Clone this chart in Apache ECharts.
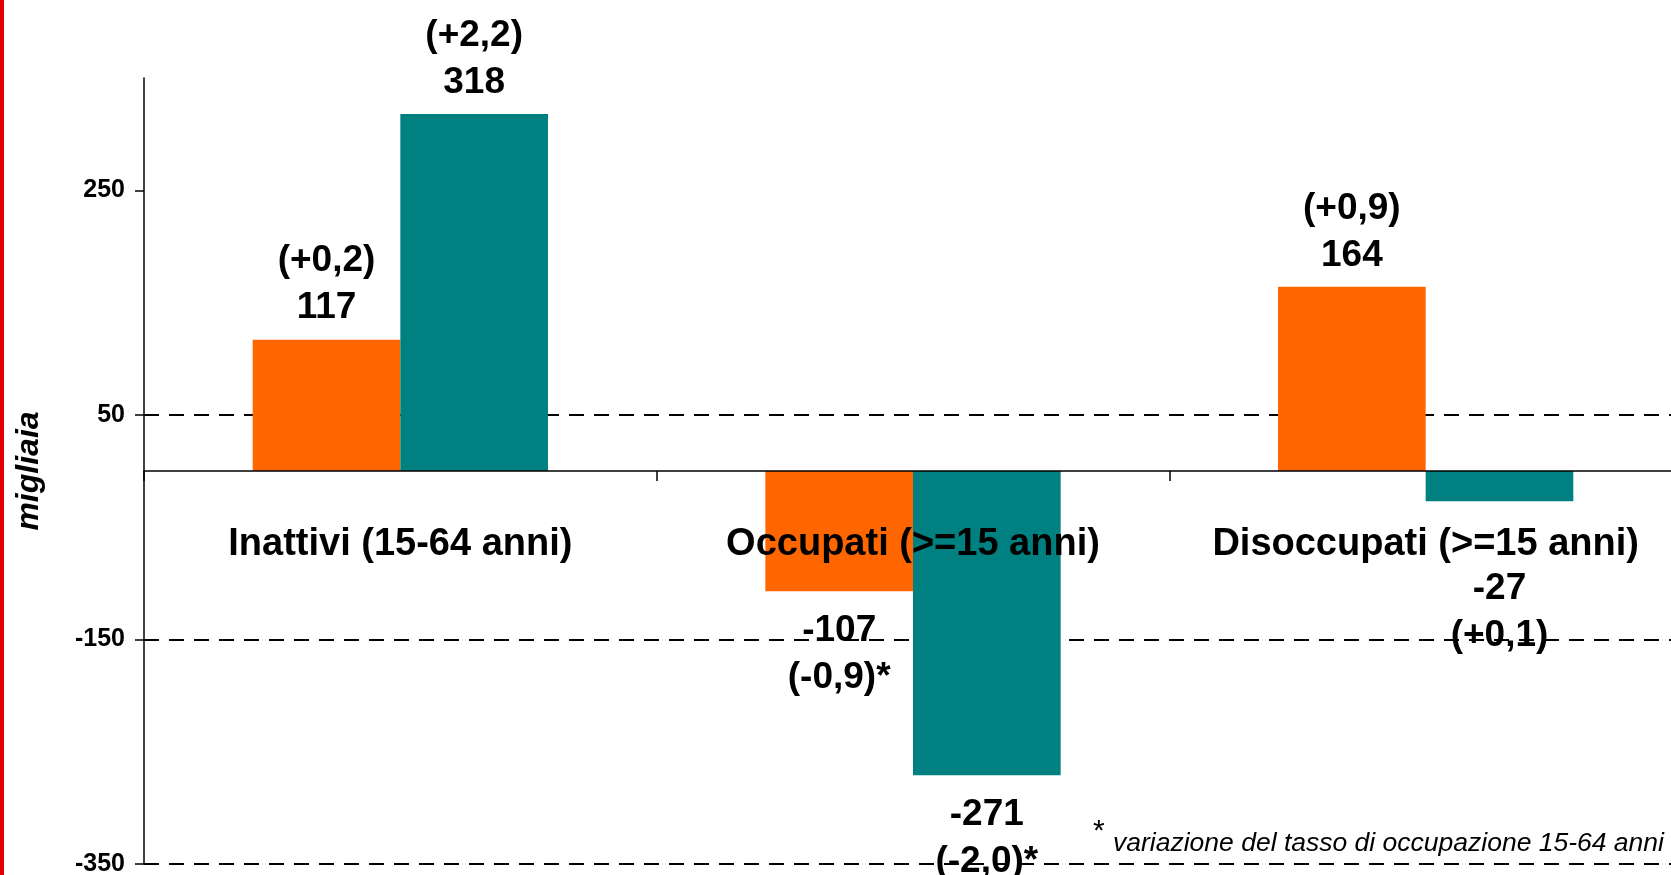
<!DOCTYPE html>
<html>
<head>
<meta charset="utf-8">
<script src="https://cdn.jsdelivr.net/npm/echarts@6/dist/echarts.min.js"></script>
<style>
html,body{margin:0;padding:0;background:#fff;}
#chart{width:1671px;height:875px;}
</style>
</head>
<body>
<div id="chart"></div>
<script>
// ---- data ----
var categories = ['Inattivi (15-64 anni)', 'Occupati (>=15 anni)', 'Disoccupati (>=15 anni)'];
var seriesA = [117, -107, 164];      // orange
var seriesB = [318, -271, -27];      // teal
var ratesA = ['(+0,2)', '(-0,9)*', '(+0,9)'];
var ratesB = ['(+2,2)', '(-2,0)*', '(+0,1)'];
var yTicks = [-350, -150, 50, 250];
var yAxisName = 'migliaia';
var footnote = 'variazione del tasso di occupazione 15-64 anni';

var FONT = '"Liberation Sans", Arial, sans-serif';

function labelFor(v, rate) {
  return v >= 0 ? rate + '\n' + v : v + '\n' + rate;
}

function buildData(values, rates, extraOffsets) {
  return values.map(function (v, i) {
    var off = (extraOffsets && extraOffsets[i]) || 0;
    return {
      value: v,
      label: {
        position: v >= 0 ? 'top' : 'bottom',
        distance: v >= 0 ? 8 : 16,
        offset: [0, off],
        formatter: labelFor(v, rates[i])
      }
    };
  });
}

var labelStyle = {
  show: true,
  fontFamily: FONT,
  fontWeight: 'bold',
  fontSize: 37,
  lineHeight: 47,
  color: '#000'
};

var chart = echarts.init(document.getElementById('chart'), null, {renderer: 'canvas'});
chart.setOption({
  animation: false,
  backgroundColor: '#fff',
  grid: {left: 144, top: 78, bottom: 11, width: 1538, containLabel: false, outerBoundsMode: 'none'},
  xAxis: {
    type: 'category',
    data: categories,
    z: 5,
    axisLine: {show: true, onZero: true, lineStyle: {color: '#000', width: 1.5}},
    axisTick: {show: true, alignWithLabel: false, length: 10, lineStyle: {color: '#000', width: 1.5}},
    axisLabel: {show: false},
    splitLine: {show: false}
  },
  yAxis: {
    type: 'value',
    min: -350,
    max: 350,
    interval: 200,
    name: yAxisName,
    nameLocation: 'middle',
    nameRotate: 90,
    nameGap: 99,
    nameTextStyle: {fontFamily: FONT, fontWeight: 'bold', fontStyle: 'italic', fontSize: 32, color: '#000'},
    axisLine: {show: true, lineStyle: {color: '#000', width: 1.5}},
    axisTick: {show: true, length: 9, lineStyle: {color: '#000', width: 1.5}, customValues: yTicks},
    axisLabel: {
      fontFamily: FONT, fontWeight: 'bold', fontSize: 25, color: '#000', margin: 19,
      customValues: yTicks
    },
    splitLine: {
      show: true, showMaxLine: false,
      lineStyle: {color: '#000', width: 2, type: [15, 10]}
    }
  },
  series: [
    {
      type: 'bar',
      data: buildData(seriesA, ratesA),
      itemStyle: {color: '#FF6600'},
      barGap: '0%',
      barCategoryGap: '42.4%',
      label: labelStyle,
      z: 2
    },
    {
      type: 'bar',
      data: buildData(seriesB, ratesB, [0, 0, 48]),
      itemStyle: {color: '#008080'},
      barGap: '0%',
      barCategoryGap: '42.4%',
      label: labelStyle,
      z: 2
    },
    {
      // category names placed just under the zero line
      type: 'scatter',
      data: categories.map(function (c, i) { return [i, 0]; }),
      symbolSize: 0,
      silent: true,
      z: 6,
      itemStyle: {opacity: 1, color: '#000'},
      emphasis: {disabled: true},
      label: {
        show: true,
        position: 'bottom',
        distance: 52,
        opacity: 1,
        formatter: function (p) { return categories[p.dataIndex]; },
        fontFamily: FONT, fontWeight: 'bold', fontSize: 38, lineHeight: 44, color: '#000'
      }
    }
  ],
  graphic: [
    {type: 'rect', left: 0, top: 0, shape: {width: 4, height: 875}, style: {fill: '#E00000'}, z: 100},
    {type: 'text', left: 1093, top: 817, style: {text: '*', fontFamily: FONT, fontSize: 30, fill: '#000'}, z: 100},
    {type: 'text', left: 1113, top: 830, style: {text: footnote, fontFamily: FONT, fontStyle: 'italic', fontSize: 26.5, fill: '#000'}, z: 100}
  ]
});
</script>
</body>
</html>
